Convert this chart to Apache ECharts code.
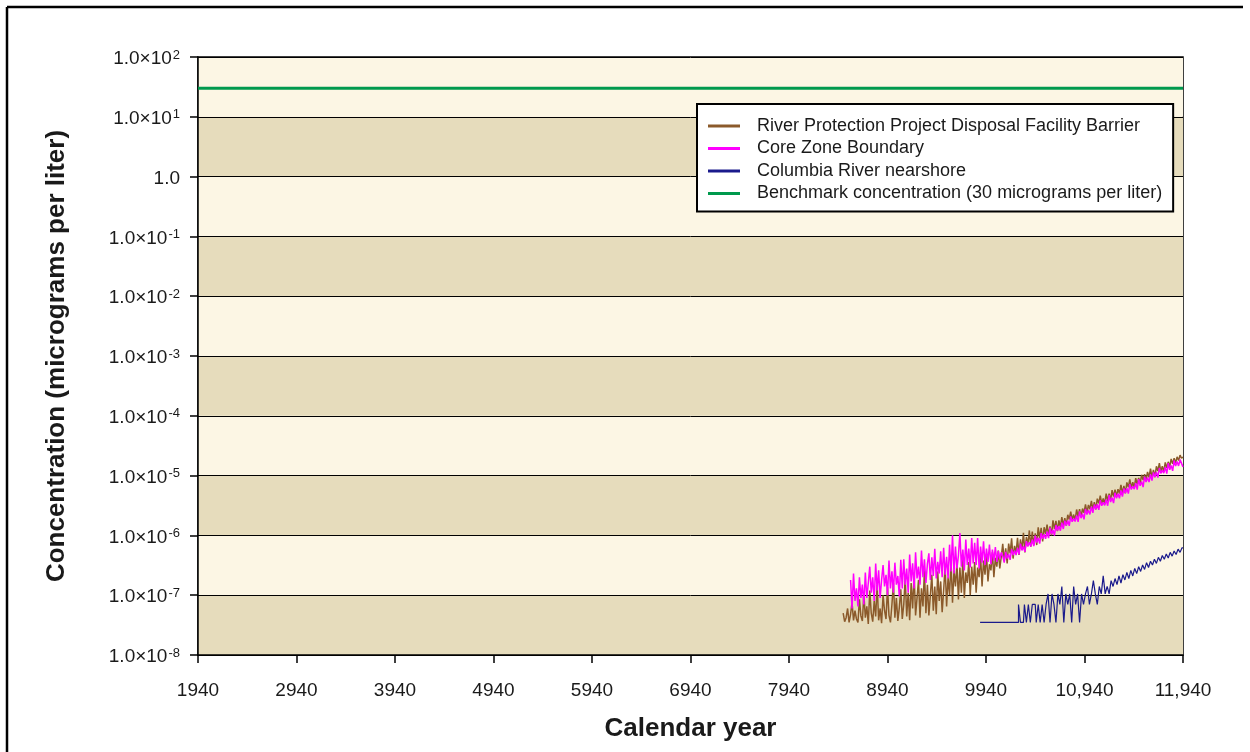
<!DOCTYPE html>
<html>
<head>
<meta charset="utf-8">
<title>Concentration vs calendar year</title>
<script src="https://cdn.jsdelivr.net/npm/echarts@6/dist/echarts.min.js"></script>
<style>
  html, body { margin: 0; padding: 0; background: #fff; }
  #chart { width: 1250px; height: 752px; }
</style>
</head>
<body>
<div id="chart"></div>
<script>
// x axis ticks
var xTickYears = [1940, 2940, 3940, 4940, 5940, 6940, 7940, 8940, 9940, 10940, 11940];
var xTickLabels = ['1940', '2940', '3940', '4940', '5940', '6940', '7940', '8940', '9940', '10,940', '11,940'];

// y axis decades (exponents of 10)
var yExponents = [-8, -7, -6, -5, -4, -3, -2, -1, 0, 1, 2];

var seriesNames = [
  'River Protection Project Disposal Facility Barrier',
  'Core Zone Boundary',
  'Columbia River nearshore',
  'Benchmark concentration (30 micrograms per liter)'
];

// River Protection Project Disposal Facility Barrier, every 15 years from 8490
var brownStart = 8490, brownStep = 15;
var brownValues = [
  5e-8, 3.6e-8, 4.2e-8, 6e-8, 3.5e-8, 4.8e-8, 7.5e-8, 3.8e-8, 5.5e-8, 4e-8, 3.5e-8, 8.5e-8, 4.5e-8, 3.7e-8, 1.05e-7,
  4.2e-8, 6.5e-8, 3.3e-8, 1.2e-7, 5e-8, 3.6e-8, 8e-8, 4.4e-8, 1.5e-7, 3.8e-8, 6e-8, 3.4e-8, 1e-7,
  5.5e-8, 4e-8, 1.35e-7, 4.6e-8, 3.5e-8, 7e-8, 1.6e-7, 4.2e-8, 9e-8, 3.7e-8, 6.2e-8, 1.25e-7, 4e-8,
  7e-8, 2e-7, 4.4e-8, 1.1e-7, 3.8e-8, 1.6e-7, 6e-8, 2.4e-7, 4.6e-8, 9e-8, 1.8e-7, 4.2e-8, 1.3e-7, 6.5e-8,
  2.6e-7, 5e-8, 1.5e-7, 4.6e-8, 1e-7, 2.2e-7, 5.5e-8, 1.4e-7, 4.8e-8, 2.5e-7, 8e-8, 1.7e-7, 5.2e-8,
  1.2e-7, 3.2e-7, 6.5e-8, 2e-7, 1e-7, 3.8e-7, 7.5e-8, 2.6e-7, 1.4e-7, 3.4e-7,
  8.5e-8, 2.9e-7, 1.1e-7, 4e-7, 9e-8, 2.4e-7, 1.6e-7, 3.6e-7, 1e-7, 3e-7,
  1.5e-7, 3.6e-7, 1.1e-7, 2.9e-7, 2e-7, 4.5e-7, 1.4e-7, 3.8e-7, 2.2e-7, 4.9e-7,
  1.7e-7, 3.3e-7, 2.6e-7, 5.2e-7, 2e-7, 4.2e-7, 3e-7, 5.6e-7, 2.8e-7, 4.4e-7,
  7.2e-7, 3.7e-7, 6.1e-7, 3.4e-7, 7.3e-7, 5e-7, 8.9e-7, 4.1e-7, 6.7e-7, 5e-7,
  9.1e-7, 4.7e-7, 8.6e-7, 5.7e-7, 1.1e-6, 5.2e-7, 9.4e-7, 6.9e-7, 1.21e-6, 6.5e-7,
  1.16e-6, 6.9e-7, 1.08e-6, 6.9e-7, 1.36e-6, 8.9e-7, 1.34e-6, 7.9e-7, 1.37e-6, 1.06e-6,
  1.52e-6, 1e-6, 1.42e-6, 1e-6, 1.78e-6, 1.28e-6, 1.75e-6, 1.18e-6, 1.79e-6, 1.36e-6,
  2.03e-6, 1.45e-6, 1.94e-6, 1.46e-6, 2.21e-6, 1.85e-6, 2.49e-6, 1.81e-6, 2.23e-6, 1.8e-6,
  2.71e-6, 2.05e-6, 2.75e-6, 2.04e-6, 2.81e-6, 2.38e-6, 3.31e-6, 2.38e-6, 3.24e-6, 2.74e-6,
  3.77e-6, 2.71e-6, 3.6e-6, 2.72e-6, 4.12e-6, 3.43e-6, 4.64e-6, 3.37e-6, 4.15e-6, 3.34e-6,
  4.98e-6, 3.78e-6, 5.01e-6, 3.9e-6, 5.72e-6, 4.44e-6, 5.82e-6, 4.5e-6, 5.94e-6, 5.01e-6,
  7.03e-6, 5.04e-6, 6.72e-6, 5.07e-6, 7.68e-6, 6.4e-6, 8.64e-6, 6.29e-6, 7.74e-6, 6.23e-6,
  9.04e-6, 7.12e-6, 9.16e-6, 7.44e-6, 1.03e-5, 8.46e-6, 1.06e-5, 8.48e-6, 1.15e-5, 9.34e-6,
  1.31e-5, 9.37e-6, 1.25e-5, 9.42e-6, 1.43e-5, 1.19e-5, 1.61e-5, 1.17e-5, 1.44e-5, 1.16e-5,
  1.66e-5, 1.35e-5, 1.7e-5, 1.41e-5, 1.9e-5, 1.57e-5, 1.96e-5, 1.63e-5, 2.06e-5, 1.79e-5,
  2.2e-5, 1.95e-5, 2.05e-5
];

// Core Zone Boundary, every 15 years from 8565
var pinkStart = 8565, pinkStep = 15;
var pinkValues = [
  1.8e-7, 6e-8, 2.3e-7, 8e-8, 1.3e-7, 6.5e-8, 2e-7, 9e-8, 1.5e-7, 7e-8,
  2.4e-7, 9e-8, 1.6e-7, 3e-7, 1.1e-7, 2e-7, 8e-8, 3.4e-7, 1.2e-7, 2.6e-7, 9e-8, 1.8e-7, 3.2e-7,
  1.4e-7, 2.2e-7, 1e-7, 3.8e-7, 1.3e-7, 2.5e-7, 1.1e-7, 3.5e-7, 1.5e-7, 2.1e-7, 9.5e-8, 3.9e-7, 1.3e-7,
  4e-7, 1.5e-7, 2.8e-7, 1.1e-7, 4.8e-7, 1.7e-7, 3.4e-7, 1.3e-7, 5.2e-7, 1.9e-7, 3e-7, 1.5e-7, 5.6e-7, 2e-7,
  4e-7, 1.6e-7, 3.3e-7, 5e-7, 1.8e-7, 4.3e-7, 2.1e-7, 6e-7, 1.9e-7, 3.6e-7, 2.3e-7, 5.4e-7, 2e-7,
  6.2e-7, 2.2e-7, 4.4e-7, 1.9e-7, 7e-7, 2.5e-7, 1e-6, 2.3e-7, 6.5e-7, 2.8e-7,
  4.6e-7, 1.1e-6, 3e-7, 5.8e-7, 2.6e-7, 8.5e-7, 3.2e-7, 6e-7, 2.9e-7, 9e-7,
  3.4e-7, 7.5e-7, 3.2e-7, 9e-7, 2.8e-7, 6.5e-7, 3.5e-7, 8e-7, 3.2e-7, 6e-7,
  3.6e-7, 7e-7, 3.3e-7, 5.8e-7, 3.8e-7, 6.4e-7, 3.6e-7, 5.5e-7, 4e-7, 5.2e-7,
  4.5e-7, 3.5e-7, 5.3e-7, 4.1e-7, 4.9e-7, 3.9e-7, 5.9e-7, 4.7e-7, 5.6e-7, 4.7e-7,
  6.2e-7, 4.8e-7, 7.3e-7, 5.6e-7, 6.6e-7, 5.3e-7, 8e-7, 6.5e-7, 7.7e-7, 6.5e-7,
  8.5e-7, 6.6e-7, 9.9e-7, 7.6e-7, 9.1e-7, 7.3e-7, 1.09e-6, 8.8e-7, 1.05e-6, 8.8e-7,
  1.15e-6, 9e-7, 1.35e-6, 1.04e-6, 1.24e-6, 9.95e-7, 1.49e-6, 1.21e-6, 1.43e-6, 1.2e-6,
  1.63e-6, 1.28e-6, 1.76e-6, 1.46e-6, 1.78e-6, 1.44e-6, 2.07e-6, 1.69e-6, 1.91e-6, 1.71e-6,
  2.15e-6, 1.68e-6, 2.52e-6, 1.94e-6, 2.3e-6, 1.85e-6, 2.77e-6, 2.24e-6, 2.66e-6, 2.24e-6,
  3.03e-6, 2.39e-6, 3.28e-6, 2.72e-6, 3.32e-6, 2.68e-6, 3.86e-6, 3.14e-6, 3.56e-6, 3.18e-6,
  4.01e-6, 3.13e-6, 4.7e-6, 3.62e-6, 4.29e-6, 3.46e-6, 5.17e-6, 4.19e-6, 4.97e-6, 4.18e-6,
  5.64e-6, 4.45e-6, 6.11e-6, 5.07e-6, 6.18e-6, 4.99e-6, 7.19e-6, 5.86e-6, 6.64e-6, 5.93e-6,
  7.47e-6, 5.83e-6, 8.75e-6, 6.74e-6, 7.99e-6, 6.44e-6, 9.62e-6, 7.8e-6, 9.26e-6, 7.78e-6,
  1.05e-5, 8.27e-6, 1.13e-5, 9.42e-6, 1.15e-5, 9.26e-6, 1.34e-5, 1.09e-5, 1.23e-5, 1.1e-5,
  1.39e-5, 1.08e-5, 1.62e-5, 1.25e-5, 1.48e-5, 1.2e-5, 1.79e-5, 1.45e-5, 1.72e-5, 1.45e-5,
  1.85e-5, 1.6e-5, 1.4e-5
];

// Columbia River nearshore, every 20 years from 9880
var blueStart = 9880, blueStep = 20;
var blueValues = [
  3.5e-8, 3.5e-8, 3.5e-8, 3.5e-8, 3.5e-8, 3.5e-8, 3.5e-8, 3.5e-8, 3.5e-8, 3.5e-8,
  3.5e-8, 3.5e-8, 3.5e-8, 3.5e-8, 3.5e-8, 3.5e-8, 3.5e-8, 3.5e-8, 3.5e-8, 3.5e-8,
  7e-8, 3.5e-8, 3.5e-8, 7e-8, 3.5e-8, 7e-8, 3.5e-8, 7e-8, 7e-8, 3.5e-8, 7e-8, 3.5e-8, 7e-8, 3.5e-8, 7e-8, 1.05e-7,
  3.5e-8, 1.05e-7, 7e-8, 3.5e-8, 1.05e-7, 7e-8, 1.4e-7, 3.5e-8, 1.05e-7, 7e-8, 1.05e-7, 3.5e-8, 1.4e-7, 7e-8, 1.05e-7, 3.5e-8,
  1.05e-7, 7e-8, 1.05e-7, 1.4e-7, 7e-8, 1.05e-7, 1.75e-7, 1.05e-7, 7e-8, 1.4e-7, 1.05e-7, 2.1e-7, 1.05e-7, 1.4e-7, 1.05e-7, 1.75e-7,
  1.4e-7, 1.9e-7, 1.5e-7, 2.1e-7, 1.6e-7, 2.2e-7, 1.8e-7, 2.4e-7, 1.9e-7, 2.6e-7, 2.1e-7, 2.8e-7,
  2.3e-7, 3e-7, 2.5e-7, 3.2e-7, 2.7e-7, 3.5e-7, 2.9e-7, 3.7e-7, 3.2e-7, 4e-7, 3.4e-7, 4.3e-7,
  3.7e-7, 4.6e-7, 4e-7, 4.9e-7, 4.2e-7, 5.2e-7, 4.5e-7, 5.5e-7, 4.8e-7, 5.9e-7, 5.2e-7, 6.2e-7
];

// Benchmark concentration
var benchmarkYears = [1940, 11940];
var benchmarkValues = [30, 30];

var FONT = '"Liberation Sans", Arial, Helvetica, sans-serif';

function pairs(start, step, values) {
  return values.map(function (v, i) { return [start + i * step, v]; });
}

var chart = echarts.init(document.getElementById('chart'), null, { renderer: 'canvas' });

var option = {
  animation: false,
  backgroundColor: '#ffffff',
  textStyle: { fontFamily: FONT },
  graphic: [
    { type: 'line', shape: { x1: 7, y1: 7, x2: 1243, y2: 7 }, style: { stroke: '#000', lineWidth: 2.5 } },
    { type: 'line', shape: { x1: 7, y1: 7, x2: 7, y2: 752 }, style: { stroke: '#000', lineWidth: 2.5 } }
  ],
  grid: {
    left: 198, right: 67, top: 57, bottom: 97,
    show: true, borderColor: '#000', borderWidth: 1.5,
    backgroundColor: '#fcf6e4'
  },
  legend: {
    orient: 'vertical',
    left: 697, top: 104,
    padding: [12, 11, 8, 11],
    backgroundColor: '#ffffff',
    borderColor: '#000', borderWidth: 2,
    itemWidth: 32, itemHeight: 3,
    itemGap: 2.5,
    textStyle: { fontFamily: FONT, fontSize: 18, color: '#1a1a1a', lineHeight: 20, padding: [0, 0, 0, 12] },
    data: seriesNames.map(function (n) { return { name: n, icon: 'rect' }; })
  },
  xAxis: {
    type: 'value',
    min: 1940, max: 11940,
    name: 'Calendar year',
    nameLocation: 'middle',
    nameGap: 61,
    nameTextStyle: { fontFamily: FONT, fontSize: 26, fontWeight: 'bold', color: '#1a1a1a' },
    axisLine: { show: true, lineStyle: { color: '#000', width: 1.5 } },
    axisTick: { show: true, length: 8, customValues: xTickYears, lineStyle: { color: '#000', width: 1.5 } },
    axisLabel: {
      customValues: xTickYears,
      margin: 26,
      fontFamily: FONT, fontSize: 19, color: '#1a1a1a',
      formatter: function (v) {
        var i = xTickYears.indexOf(v);
        return i >= 0 ? xTickLabels[i] : '';
      }
    },
    splitLine: { show: false }
  },
  yAxis: {
    type: 'log',
    logBase: 10,
    min: 1e-8, max: 100,
    interval: 1,
    name: 'Concentration (micrograms per liter)',
    nameLocation: 'middle',
    nameGap: 128,
    nameRotate: 90,
    nameTextStyle: { fontFamily: FONT, fontSize: 26, fontWeight: 'bold', color: '#1a1a1a' },
    axisLine: { show: true, lineStyle: { color: '#000', width: 1.5 } },
    axisTick: { show: true, length: 8, lineStyle: { color: '#000', width: 1.5 } },
    axisLabel: {
      margin: 18,
      formatter: function (v) {
        var e = Math.round(Math.log10(v));
        if (yExponents.indexOf(e) < 0) return '';
        if (e === 0) return '{b|1.0}';
        return '{b|1.0×10}{s|' + e + '}';
      },
      rich: {
        b: { fontFamily: FONT, fontSize: 19, color: '#1a1a1a', lineHeight: 23, verticalAlign: 'bottom' },
        s: { fontFamily: FONT, fontSize: 13, color: '#1a1a1a', lineHeight: 13, verticalAlign: 'top', padding: [3, 0, 0, 1] }
      }
    },
    splitLine: { show: true, lineStyle: { color: '#000', width: 1 } },
    splitArea: { show: true, areaStyle: { color: ['#e6dcbc', '#fcf6e4'] } }
  },
  series: [
    {
      name: seriesNames[0], type: 'line', showSymbol: false, symbol: 'none',
      data: pairs(brownStart, brownStep, brownValues),
      itemStyle: { color: '#8b5a2b' },
      lineStyle: { color: '#8b5a2b', width: 1.5 }
    },
    {
      name: seriesNames[1], type: 'line', showSymbol: false, symbol: 'none',
      data: pairs(pinkStart, pinkStep, pinkValues),
      itemStyle: { color: '#ff00ff' },
      lineStyle: { color: '#ff00ff', width: 1.5 }
    },
    {
      name: seriesNames[2], type: 'line', showSymbol: false, symbol: 'none', step: 'middle',
      data: pairs(blueStart, blueStep, blueValues),
      itemStyle: { color: '#1a1a8c' },
      lineStyle: { color: '#1a1a8c', width: 1.2 }
    },
    {
      name: seriesNames[3], type: 'line', showSymbol: false, symbol: 'none',
      data: benchmarkYears.map(function (y, i) { return [y, benchmarkValues[i]]; }),
      itemStyle: { color: '#00994d' },
      lineStyle: { color: '#00994d', width: 3 }
    }
  ]
};

chart.setOption(option);
</script>
</body>
</html>
